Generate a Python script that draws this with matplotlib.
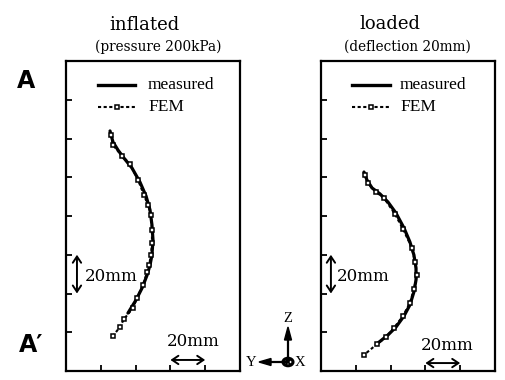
import matplotlib
matplotlib.use("Agg")
import matplotlib.pyplot as plt
from matplotlib.patches import Circle

# ---------------- data (mm) ----------------
infl_meas_x = [25.3, 27.0, 29.9, 33.3, 37.9, 42.5, 46.0, 48.3, 49.4, 50.0, 49.4, 48.3, 46.6, 43.7, 40.2, 35.6]
infl_meas_z = [123.9, 118.2, 114.0, 109.9, 104.8, 97.5, 90.3, 83.1, 75.4, 67.6, 59.9, 54.7, 49.5, 42.8, 36.6, 29.9]
infl_fem_x = [25.9, 27.0, 32.2, 36.8, 41.4, 44.8, 47.1, 48.9, 49.4, 49.4, 48.9, 47.7, 46.6, 44.3, 40.8, 38.5, 33.3, 31.0, 27.0]
infl_fem_z = [121.8, 116.6, 111.0, 106.8, 98.6, 90.8, 85.7, 80.5, 72.8, 66.1, 59.9, 54.7, 51.1, 44.4, 37.7, 32.5, 26.8, 22.7, 18.1]

load_meas_x = [24.7, 26.4, 29.3, 33.9, 38.5, 43.1, 47.7, 51.1, 53.4, 54.6, 54.6, 53.4, 51.1, 47.7, 43.1, 38.5, 32.8]
load_meas_z = [102.7, 98.6, 94.5, 91.4, 87.2, 81.5, 73.8, 66.6, 59.9, 53.2, 47.0, 40.8, 34.1, 28.4, 22.7, 18.6, 14.5]
load_fem_x = [25.3, 27.0, 31.6, 36.2, 42.5, 47.1, 52.3, 54.0, 55.2, 53.4, 51.1, 47.1, 41.9, 37.4, 32.2, 24.7]
load_fem_z = [101.2, 97.0, 92.4, 89.3, 81.0, 73.3, 63.5, 56.3, 49.5, 42.3, 35.1, 28.4, 22.2, 17.5, 13.9, 8.3]

titles = ["inflated", "loaded"]
subtitles = ["(pressure 200kPa)", "(deflection 20mm)"]
legend_labels = ["measured", "FEM"]
scale_label = "20mm"
x_ticks = [20, 40, 60, 80]
z_ticks = [20, 40, 60, 80, 100, 120, 140]

W, H = 506, 380
fig = plt.figure(figsize=(W / 100, H / 100), dpi=100)

serif = "DejaVu Serif"
lserif = "Liberation Serif"


def make_axes(left_px):
    ax = fig.add_axes([left_px / W, 1 - 371 / H, 174 / W, 310 / H])
    ax.set_xlim(0, 100)
    ax.set_ylim(0, 160)
    ax.set_xticks(x_ticks)
    ax.set_yticks(z_ticks)
    ax.set_xticklabels([])
    ax.set_yticklabels([])
    ax.tick_params(direction="in", length=4.5, width=1.3, top=False, right=False)
    for s in ax.spines.values():
        s.set_linewidth(1.6)
    return ax


panels = [
    (66, infl_meas_x, infl_meas_z, infl_fem_x, infl_fem_z),
    (321, load_meas_x, load_meas_z, load_fem_x, load_fem_z),
]

fem_style = dict(color="black", linestyle=(0, (1.5, 1.2)), linewidth=1.5,
                 marker="s", markersize=3.2, markerfacecolor="white",
                 markeredgecolor="black", markeredgewidth=1.1)

for i, (lp, mx, mz, fx, fz) in enumerate(panels):
    ax = make_axes(lp)
    ax.plot(mx, mz, color="black", linewidth=2.3, solid_capstyle="round", zorder=2)
    ax.plot(fx, fz, zorder=3, **fem_style)

    # legend (manual)
    lx0, lx1 = (0.184, 0.397) if i == 0 else (0.178, 0.397)
    tx = 0.471 if i == 0 else 0.454
    ax.plot([lx0, lx1], [0.923, 0.923], transform=ax.transAxes, color="black", linewidth=2.4)
    ax.plot([lx0, (lx0 + lx1) / 2, lx1], [0.852] * 3, transform=ax.transAxes,
            markevery=[1], **fem_style)
    ax.text(tx, 0.923, legend_labels[0], transform=ax.transAxes, family=lserif,
            fontsize=12.5, va="center", ha="left")
    ax.text(tx, 0.852, legend_labels[1], transform=ax.transAxes, family=lserif,
            fontsize=12.5, va="center", ha="left")

    # scale bars
    vx = 6.3 if i == 0 else 5.7
    ax.annotate("", xy=(vx, 60), xytext=(vx, 40),
                arrowprops=dict(arrowstyle="<->,head_length=0.45,head_width=0.3",
                                color="black", lw=1.4, shrinkA=0, shrinkB=0))
    ax.text(vx + (4.5 if i == 0 else 3.5), 49, scale_label, family=serif,
            fontsize=12, va="center", ha="left")
    hy = 5.7 if i == 0 else 4.1
    ax.annotate("", xy=(60, hy), xytext=(80, hy),
                arrowprops=dict(arrowstyle="<->,head_length=0.45,head_width=0.3",
                                color="black", lw=1.4, shrinkA=0, shrinkB=0))
    ax.text(73 if i == 0 else 72.4, 15 if i == 0 else 13.2, scale_label, family=serif,
            fontsize=12, va="center", ha="center")

# titles
fig.text(144 / W, 1 - 25 / H, titles[0], family=serif, fontsize=13,
         ha="center", va="center", weight="normal")
fig.text(158 / W, 1 - 47 / H, subtitles[0], family=serif, fontsize=9.8,
         ha="center", va="center")
fig.text(390 / W, 1 - 24 / H, titles[1], family=serif, fontsize=13,
         ha="center", va="center", weight="normal")
fig.text(407 / W, 1 - 47 / H, subtitles[1], family=serif, fontsize=9.8,
         ha="center", va="center")

# section labels
fig.text(26 / W, 1 - 81 / H, "A", family="DejaVu Sans", weight="bold",
         fontsize=17, ha="center", va="center")
fig.text(31 / W, 1 - 345 / H, "A\u2032", family="DejaVu Sans", weight="bold",
         fontsize=17, ha="center", va="center")

# coordinate system glyph
ox, oy = 288, H - 362
fig.add_artist(plt.Line2D([ox / W, ox / W], [oy / H, (oy + 26) / H], color="black", lw=1.6))
fig.add_artist(plt.Line2D([ox / W, (ox - 22) / W], [oy / H, oy / H], color="black", lw=1.6))
fig.patches.append(plt.Polygon([[ox / W, (H - 327) / H], [(ox - 3.5) / W, (H - 340) / H],
                                [(ox + 3.5) / W, (H - 340) / H]], closed=True,
                               color="black", transform=fig.transFigure))
fig.patches.append(plt.Polygon([[(ox - 29) / W, oy / H], [(ox - 17) / W, (oy + 3.5) / H],
                                [(ox - 17) / W, (oy - 3.5) / H]], closed=True,
                               color="black", transform=fig.transFigure))
fig.patches.append(Circle((ox / W, oy / H), 5 / W, transform=fig.transFigure,
                          facecolor="white", edgecolor="black", lw=2.2))
d = 2.6
fig.add_artist(plt.Line2D([(ox - d) / W, (ox + d) / W], [(oy - d) / H, (oy + d) / H], color="black", lw=1.3))
fig.add_artist(plt.Line2D([(ox - d) / W, (ox + d) / W], [(oy + d) / H, (oy - d) / H], color="black", lw=1.3))
fig.text(ox / W, (H - 318) / H, "Z", family=lserif, fontsize=10.5, ha="center", va="center")
fig.text(251 / W, oy / H, "Y", family=lserif, fontsize=10.5, ha="center", va="center")
fig.text(300 / W, oy / H, "X", family=lserif, fontsize=10.5, ha="center", va="center")

fig.savefig("out.png", dpi=100)
